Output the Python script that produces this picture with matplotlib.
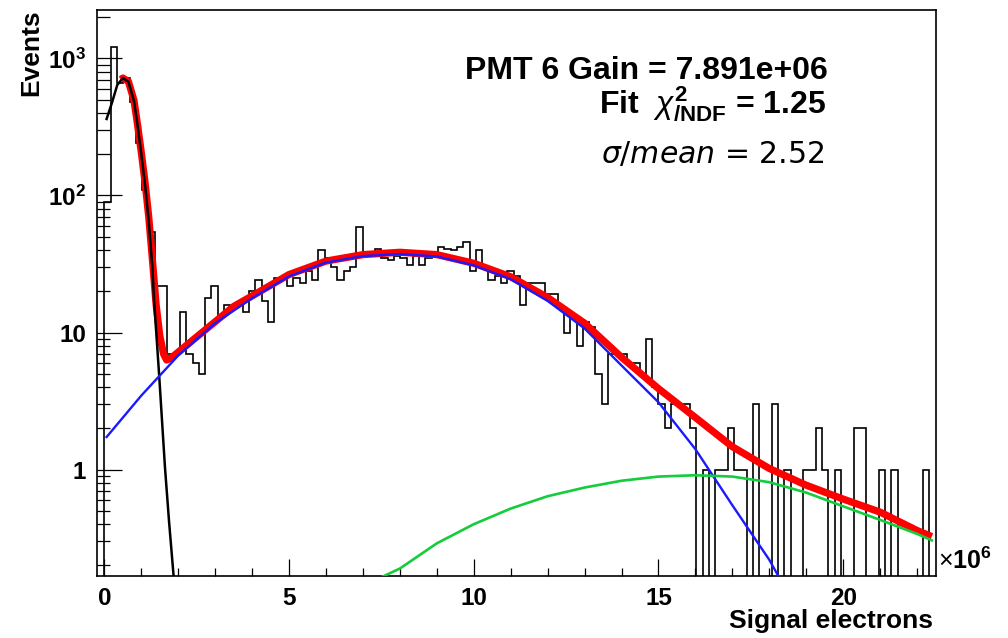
import numpy as np
import matplotlib
matplotlib.use("Agg")
import matplotlib.pyplot as plt

plt.rcParams['font.family'] = ['Liberation Sans', 'DejaVu Sans']
plt.rcParams['mathtext.fontset'] = 'custom'
plt.rcParams['mathtext.rm'] = 'Liberation Sans'
plt.rcParams['mathtext.it'] = 'Liberation Sans:italic'
plt.rcParams['mathtext.bf'] = 'Liberation Sans:bold'

# ---------------- data (x in units of 10^6 signal electrons) ----------------
hist_xmin, hist_xmax = 0.0, 22.5
counts = [90, 1216, 660, 720, 480, 240, 110, 54, 22, 22,
          7, 7, 14, 7, 6, 5, 18, 22, 13, 16,
          15, 16, 14, 20, 24, 17, 12, 25, 25, 22,
          25, 23, 28, 24, 40, 35, 30, 24, 28, 30,
          59, 36, 36, 41, 35, 34, 36, 35, 31, 36,
          31, 35, 38, 42, 41, 40, 42, 46, 28, 40,
          30, 24, 26, 23, 28, 26, 16, 23, 23, 23,
          19, 19, 15, 10, 13, 8, 12, 11, 5, 3,
          7, 7, 7, 6, 6, 5, 9, 4, 3, 2,
          3, 3, 3, 2, 0, 1, 0, 1, 1, 2,
          1, 1, 0, 3, 0, 0, 3, 0, 1, 0,
          0, 1, 1, 2, 1, 0, 1, 0, 0, 2,
          2, 0, 0, 1, 0, 1, 0, 0, 0, 0,
          1, 0]

total_x = [0.45, 0.5, 0.65, 0.8, 0.9, 1.0, 1.1, 1.2, 1.3, 1.4, 1.5, 1.6, 1.685,
           1.8, 2.0, 2.5, 3.0, 3.5, 4.0, 5.0, 6.0, 7.0, 8.0, 9.0, 10.0, 11.0,
           12.0, 13.0, 14.0, 15.0, 16.0, 17.0, 18.0, 19.0, 20.0, 21.0, 22.0, 22.4]
total_y = [700, 718, 678, 495, 325, 205, 125, 70, 34, 16, 9.5, 7.0, 6.3,
           6.5, 7.2, 9.3, 12.0, 15.5, 18.5, 26.5, 33.2, 37.0, 38.5, 37.0, 32.0, 25.5,
           18.0, 11.7, 6.6, 3.9, 2.4, 1.47, 1.02, 0.77, 0.61, 0.49, 0.36, 0.325]

ped_x = [0.06, 0.2, 0.35, 0.5, 0.65, 0.8, 0.9, 1.0, 1.1, 1.2, 1.3, 1.34, 1.48, 1.64, 1.75, 1.88]
ped_y = [361, 470, 640, 718, 675, 490, 320, 200, 120, 65, 30, 18, 5.0, 1.04, 0.42, 0.16]

spe_x = [0.06, 1.0, 2.0, 3.0, 4.0, 5.0, 6.0, 7.0, 8.0, 9.0, 10.0, 11.0, 12.0,
         13.0, 14.0, 15.0, 16.0, 17.0, 18.0, 18.5]
spe_y = [1.73, 3.47, 6.8, 11.7, 17.8, 25.7, 32.4, 36.1, 37.4, 35.9, 30.9, 24.5, 17.0,
         10.7, 5.75, 3.1, 1.41, 0.55, 0.22, 0.126]

dpe_x = [7.3, 8.0, 9.0, 10.0, 11.0, 12.0, 13.0, 14.0, 15.0, 16.0, 17.0, 18.0,
         19.0, 20.0, 21.0, 22.0, 22.4]
dpe_y = [0.155, 0.19, 0.29, 0.40, 0.52, 0.64, 0.74, 0.83, 0.89, 0.91, 0.89, 0.81,
         0.68, 0.54, 0.43, 0.34, 0.305]

x_ticks = [0, 5, 10, 15, 20]
x_ticklabels = ['0', '5', '10', '15', '20']
y_ticks = [1, 10, 100, 1000]
y_ticklabels = ['1', '10', r'$\mathbf{10^{2}}$', r'$\mathbf{10^{3}}$']

line1 = 'PMT 6 Gain = 7.891e+06'
line2 = r'Fit  $\chi^{\mathbf{2}}_{\mathbf{/NDF}}$ = 1.25'
line3 = r'$\sigma/mean$ = 2.52'

# ---------------- figure ----------------
W, H = 1008, 638
fig = plt.figure(figsize=(W / 100, H / 100), dpi=100)
ax = fig.add_axes([97 / W, 62.5 / H, 838.5 / W, 566 / H])

edges = np.linspace(hist_xmin, hist_xmax, len(counts) + 1)
vals = np.array(counts, dtype=float)
vals[vals <= 0] = 1e-3
ax.stairs(vals, edges, baseline=1e-3, color='black', lw=1.2, zorder=2)

ax.plot(total_x, total_y, color='#ff0000', lw=5.2, zorder=3, solid_capstyle='butt')
ax.plot(ped_x, ped_y, color='black', lw=1.8, zorder=4)
ax.plot(spe_x, spe_y, color='#1a1aff', lw=1.7, zorder=4)
ax.plot(dpe_x, dpe_y, color='#14cc3c', lw=1.9, zorder=4)

ax.set_yscale('log')
ax.set_xlim(-0.2, 22.5)
ax.set_ylim(0.169, 2270)

ax.set_xticks(x_ticks, x_ticklabels, fontsize=17.5, fontweight='bold')
ax.set_xticks(np.arange(0, 23, 1), minor=True)
ax.set_yticks(y_ticks, y_ticklabels, fontsize=17.5, fontweight='bold')
minor_y = [m * 10.0 ** e for e in range(-1, 4) for m in range(2, 10)]
ax.set_yticks([v for v in minor_y if 0.169 < v < 2270], minor=True)
ax.yaxis.set_minor_formatter(matplotlib.ticker.NullFormatter())

ax.tick_params(axis='both', which='both', direction='in', top=False, right=False,
               width=0.9, colors='black')
ax.tick_params(axis='y', which='major', length=18, pad=8)
ax.tick_params(axis='y', which='minor', length=9)
ax.tick_params(axis='x', which='major', length=12, pad=8)
ax.tick_params(axis='x', which='minor', length=6)
for s in ax.spines.values():
    s.set_linewidth(1.2)

ax.set_xlabel('Signal electrons', fontsize=19, fontweight='bold', loc='right')
ax.xaxis.set_label_coords(0.997, -0.059)
ax.set_ylabel('Events', fontsize=19, fontweight='bold', loc='top')
ax.yaxis.set_label_coords(-0.0645, 1.0)

ax.text(1.003, 0.002, r'$\times\mathbf{10^{6}}$', transform=ax.transAxes,
        fontsize=18, ha='left', va='bottom')

ax.text(0.872, 0.8766, line1, transform=ax.transAxes, fontsize=23,
        fontweight='bold', ha='right', va='baseline')
ax.text(0.870, 0.817, line2, transform=ax.transAxes, fontsize=23,
        fontweight='bold', ha='right', va='baseline')
ax.text(0.867, 0.7283, line3, transform=ax.transAxes, fontsize=21.5,
        fontfamily='DejaVu Sans', math_fontfamily='dejavusans',
        ha='right', va='baseline')

fig.savefig('out.png', dpi=100)
